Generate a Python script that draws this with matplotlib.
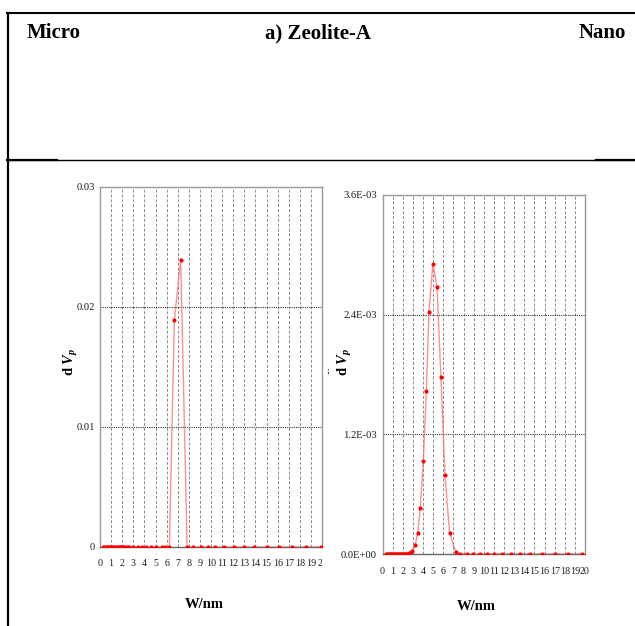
import matplotlib
matplotlib.use("Agg")
import matplotlib.pyplot as plt
from matplotlib.lines import Line2D
from matplotlib.transforms import Bbox, TransformedBbox

plt.rcParams['font.family'] = ['Liberation Serif', 'DejaVu Serif']
plt.rcParams['mathtext.fontset'] = 'custom'
plt.rcParams['mathtext.rm'] = 'Liberation Serif:bold'
plt.rcParams['mathtext.it'] = 'Liberation Serif:italic:bold'

# Micro (left) pore size distribution
micro_w = [0.3, 0.4, 0.5, 0.6, 0.7, 0.8, 0.9, 1.0, 1.1, 1.2, 1.3, 1.4, 1.5,
           1.6, 1.7, 1.8, 1.9, 2.0, 2.1, 2.2, 2.35, 2.5, 2.65, 2.97, 3.43,
           3.82, 4.18, 4.6, 5.09, 5.55, 5.9, 6.25, 6.7, 7.27, 7.85, 8.4,
           9.1, 9.7, 10.4, 11.2, 12.05, 13.0, 13.9, 15.0, 16.1, 17.3, 18.6,
           19.9]
micro_dv = [0.0] * 31 + [0.0, 0.0189, 0.0239] + [0.0] * 14

# Nano (right) pore size distribution
nano_w = [0.3, 0.4, 0.5, 0.6, 0.7, 0.8, 0.9, 1.0, 1.1, 1.2, 1.3, 1.4, 1.5,
          1.6, 1.7, 1.8, 1.9, 2.0, 2.1, 2.2, 2.3, 2.4, 2.5, 2.6, 2.7, 2.94,
          3.23, 3.47, 3.73, 4.03, 4.33, 4.59, 4.98, 5.38, 5.77, 6.17, 6.63,
          7.23, 7.69, 8.32, 8.98, 9.64, 10.33, 11.05, 11.85, 12.7, 13.6,
          14.6, 15.8, 17.0, 18.3, 19.7]
nano_dv = [0.0] * 20 + [0.000002, 0.000003, 0.000005, 0.000009, 0.000015,
                        0.000033, 0.00009, 0.000207, 0.000463, 0.000933,
                        0.00163, 0.00243, 0.002913, 0.00268, 0.00177,
                        0.00079, 0.000207, 0.000023] + [0.0] * 14

x_ticks = list(range(0, 21))
micro_yticks = [0, 0.01, 0.02, 0.03]
micro_ylabels = ['0', '0.01', '0.02', '0.03']
nano_yticks = [0, 0.0012, 0.0024, 0.0036]
nano_ylabels = ['0.0E+00', '1.2E-03', '2.4E-03', '3.6E-03']

W, H = 635, 626
fig = plt.figure(figsize=(W / 100, H / 100), dpi=100)


def fx(px):
    return px / W


def fy(py):
    return 1 - py / H


def panel(rect, xs, ys, yticks, ylabels, ymax, xpad, ypad):
    ax = fig.add_axes(rect)
    ax.plot(xs, ys, '-', color='#ff6a6a', lw=1.0, alpha=0.75, zorder=3)
    ax.plot(xs, ys, 'o', color='#ff0000', ms=3.0, mew=0, zorder=4)
    ax.set_xlim(0, 20)
    ax.set_ylim(0, ymax)
    ax.set_xticks(x_ticks)
    ax.set_xticklabels([str(t) for t in x_ticks])
    ax.set_yticks(yticks)
    ax.set_yticklabels(ylabels)
    ax.tick_params(length=0, colors='#1a1a1a')
    ax.tick_params(axis='x', pad=xpad, labelsize=7.2)
    ax.tick_params(axis='y', pad=ypad, labelsize=7.6)
    for t in range(1, 20):
        ax.axvline(t, color='#8a8a8a', lw=0.7, dashes=(3, 2), zorder=1)
    for v in yticks[1:-1]:
        ax.axhline(v, color='#333333', lw=0.8, dashes=(1, 1), zorder=1)
    for s in ax.spines.values():
        s.set_color('#999999')
        s.set_linewidth(1.0)
    ax.spines['bottom'].set_color('#666666')
    return ax


ax1 = panel([fx(100), fy(547), fx(222), (547 - 186.5) / H],
            micro_w, micro_dv, micro_yticks, micro_ylabels, 0.03, 9.0, 3.5)
ax2 = panel([fx(382.5), fy(554), fx(202.5), (554 - 195) / H],
            nano_w, nano_dv, nano_yticks, nano_ylabels, 0.0036, 9.5, 4)

# left picture is cropped at its right edge
clip = TransformedBbox(Bbox([[0, 0], [fx(322), 1]]), fig.transFigure)
for lab in ax1.get_xticklabels():
    lab.set_clip_box(clip)
    lab.set_clip_on(True)

# axis titles
fig.text(fx(71), fy(362), r'd $V_p$', rotation=90, ha='center', va='center',
         fontsize=10.5, fontweight='bold')
fig.text(fx(345), fy(362), r'd $V_p$', rotation=90, ha='center', va='center',
         fontsize=10.5, fontweight='bold')
fig.text(fx(327), fy(370), '...', rotation=90, ha='center', va='center',
         fontsize=7)
fig.text(fx(204), fy(604), 'W/nm', ha='center', va='center', fontsize=10.5,
         fontweight='bold')
fig.text(fx(476), fy(607), 'W/nm', ha='center', va='center', fontsize=10.5,
         fontweight='bold')

# header row of the table
fig.text(fx(27), fy(38), 'Micro', ha='left', va='baseline', fontsize=15,
         fontweight='bold')
fig.text(fx(318), fy(38), 'a) Zeolite-A', ha='center', va='baseline',
         fontsize=15, fontweight='bold')
fig.text(fx(626), fy(38), 'Nano', ha='right', va='baseline', fontsize=15,
         fontweight='bold')

# table borders
tf = fig.transFigure
fig.add_artist(Line2D([fx(6.5), 1], [fy(13), fy(13)], color='black', lw=1.5,
                      transform=tf))
fig.add_artist(Line2D([fx(7.5), fx(7.5)], [fy(12.5), 0], color='black', lw=1.6,
                      transform=tf))
fig.add_artist(Line2D([fx(7), 1], [fy(159.5), fy(159.5)], color='black',
                      lw=1.0, transform=tf))
fig.add_artist(Line2D([fx(7), fx(57)], [fy(160), fy(160)], color='black',
                      lw=1.6, transform=tf))
fig.add_artist(Line2D([fx(596), 1], [fy(160), fy(160)], color='black',
                      lw=1.6, transform=tf))

fig.savefig('out.png', dpi=100)
